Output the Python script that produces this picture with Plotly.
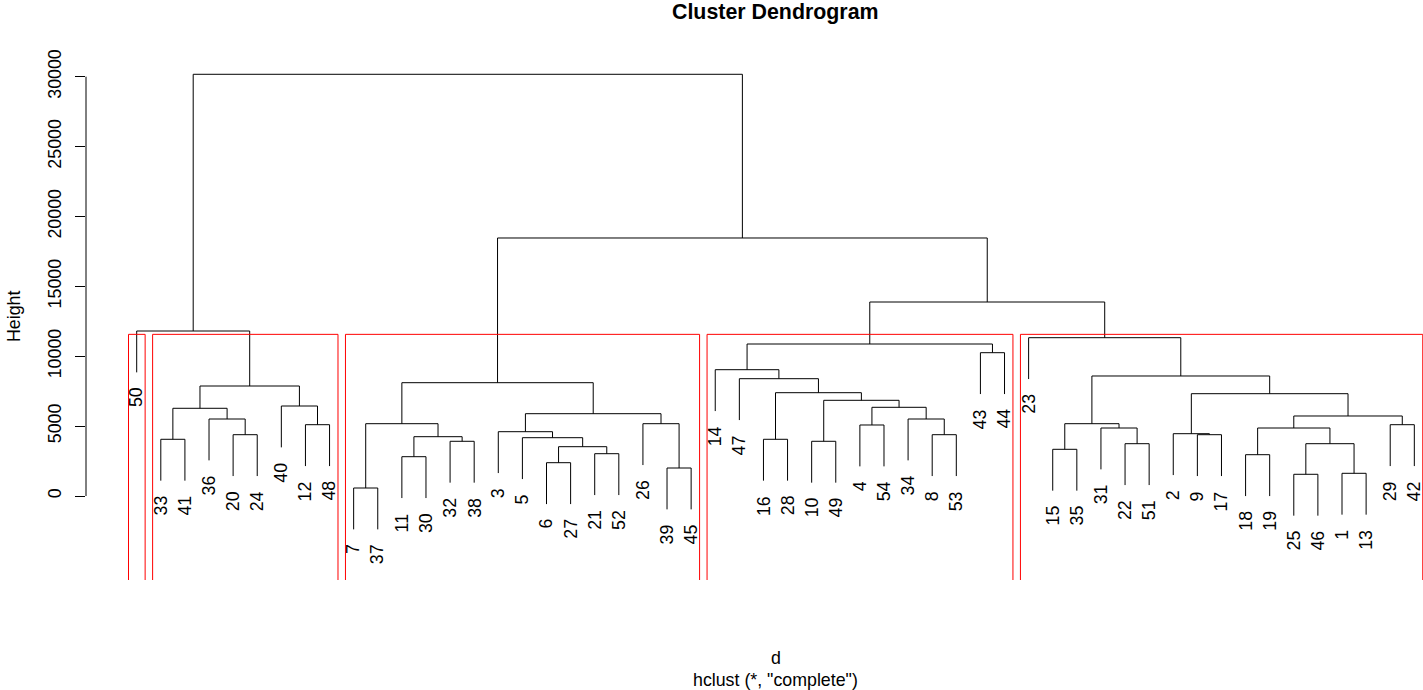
import plotly.graph_objects as go

# R-style hclust merge table: negative = leaf label, positive = earlier merge row (1-based)
merge_a = [-33, -20, -36, 1, -12, -40, 4, -50,
           -7, -11, -32, 10, 9, -6, -21, 14, -5, -3, -39, -26, 18, 13,
           -8, -34, -4, 25, -10, 27, -16, 29, -47, -14, -43, 32,
           -15, -22, -31, 35, -9, -2, -18, -25, -1, 42, 41, -29, 45, 40, 38, -23,
           34, 22, 8]
merge_b = [-41, -24, 2, 3, -48, 5, 6, 7,
           -37, -30, -38, 11, 12, -27, -52, 15, 16, 17, -45, 19, 20, 21,
           -53, 23, -54, 24, -49, 26, -28, 28, 30, 31, -44, 33,
           -35, -51, 36, 37, -17, 39, -19, -46, -13, 43, 44, -42, 46, 47, 48, 49,
           50, 51, 52]
merge_h = [4057, 4386, 5509, 6275, 5101, 6439, 7870, 11805,
           572, 2812, 3914, 4243, 5173, 2382, 3026, 3527, 4171, 4600, 2003, 5173, 5888, 8106,
           4386, 5509, 5080, 6346, 3914, 6847, 4057, 7391, 8392, 9036, 10253, 10875,
           3341, 3742, 4865, 5173, 4386, 4457, 2955, 1553, 1624, 3742, 4865, 5101, 5724, 7319, 8586, 11326,
           13880, 18459, 30171]

k_clusters = 5
y_ticks = [0, 5000, 10000, 15000, 20000, 25000, 30000]
hang = 0.1

FONT = "Liberation Sans, Arial, Helvetica, sans-serif"
FS = 17.8

n_merge = len(merge_h)
n_leaf = n_merge + 1

# leaf order by traversal
def order(node):
    if node < 0:
        return [-node]
    i = node - 1
    return order(merge_a[i]) + order(merge_b[i])

leaf_order = order(n_merge)
leaf_x = {lab: i + 1 for i, lab in enumerate(leaf_order)}

node_x = {}
def xpos(node):
    if node < 0:
        return leaf_x[-node]
    if node in node_x:
        return node_x[node]
    i = node - 1
    v = (xpos(merge_a[i]) + xpos(merge_b[i])) / 2.0
    node_x[node] = v
    return v

hang_amt = hang * (max(merge_h) - min(merge_h))

# y range to match pixel layout
y_bottom = -6010
y_top = 31623

lx, ly = [], []
leaf_bottom = {}
for i in range(n_merge):
    h = merge_h[i]
    a, b = merge_a[i], merge_b[i]
    xa, xb = xpos(a), xpos(b)
    ya = merge_h[a - 1] if a > 0 else h - hang_amt
    yb = merge_h[b - 1] if b > 0 else h - hang_amt
    if a < 0:
        leaf_bottom[-a] = ya
    if b < 0:
        leaf_bottom[-b] = yb
    lx += [xa, xa, xb, xb, None]
    ly += [ya, h, h, yb, None]

fig = go.Figure()
fig.add_trace(go.Scatter(x=lx, y=ly, mode="lines", line=dict(color="black", width=1),
                         hoverinfo="skip", showlegend=False))

# rect.hclust
sorted_h = sorted(merge_h, reverse=True)
cut_h = (sorted_h[k_clusters - 2] + sorted_h[k_clusters - 1]) / 2.0

clusters = []
def collect(node):
    if node < 0:
        clusters.append([-node])
        return
    i = node - 1
    if merge_h[i] < cut_h:
        clusters.append(order(node))
    else:
        collect(merge_a[i])
        collect(merge_b[i])
collect(n_merge)

shapes = [dict(type="line", xref="paper", yref="y", x0=0, x1=0, y0=y_ticks[0], y1=y_ticks[-1],
               line=dict(color="black", width=1))]
for cl in clusters:
    xs = [leaf_x[l] for l in cl]
    x0 = min(xs) - 0.34
    x1 = max(xs) + 0.35
    shapes.append(dict(type="path", xref="x", yref="y", layer="above",
                       path=f"M{x0},{y_bottom} L{x0},{cut_h} L{x1},{cut_h} L{x1},{y_bottom}",
                       line=dict(color="#FF0000", width=1)))

annotations = []
for lab in leaf_order:
    annotations.append(dict(x=leaf_x[lab], y=leaf_bottom[lab], xref="x", yref="y",
                            text=str(lab), showarrow=False, textangle=-90,
                            xanchor="center", yanchor="top", yshift=-13,
                            font=dict(family=FONT, size=FS, color="black")))

x_center = 27.5
annotations.append(dict(x=x_center, y=1, xref="x", yref="paper", text="<b>Cluster Dendrogram</b>",
                        showarrow=False, xanchor="center", yanchor="middle", yshift=42,
                        font=dict(family=FONT, size=FS * 1.2, color="black")))
annotations.append(dict(x=x_center, y=0, xref="x", yref="paper", text="d",
                        showarrow=False, xanchor="center", yanchor="middle", yshift=-78,
                        font=dict(family=FONT, size=FS, color="black")))
annotations.append(dict(x=x_center, y=0, xref="x", yref="paper", text='hclust (*, "complete")',
                        showarrow=False, xanchor="center", yanchor="middle", yshift=-100,
                        font=dict(family=FONT, size=FS, color="black")))
annotations.append(dict(x=0, y=0.5, xref="paper", yref="paper", text="Height",
                        showarrow=False, xanchor="center", yanchor="middle", xshift=-72,
                        textangle=-90, font=dict(family=FONT, size=FS, color="black")))

fig.update_layout(
    width=1423, height=690,
    margin=dict(l=86, r=0, t=54, b=110, pad=0),
    paper_bgcolor="white", plot_bgcolor="white",
    showlegend=False,
    annotations=annotations,
    shapes=shapes,
    xaxis=dict(range=[1 + (86 - 136.7) / 24.106, 1 + (1423 - 136.7) / 24.106],
               visible=False, fixedrange=True),
    yaxis=dict(range=[y_bottom, y_top], showgrid=False, zeroline=False, showline=False,
               ticks="outside", ticklen=10, tickwidth=1, tickcolor="black",
               tickvals=y_ticks, ticktext=[str(v) for v in y_ticks], tickangle=-90,
               ticklabelstandoff=7,
               tickfont=dict(family=FONT, size=FS, color="black"), fixedrange=True),
)

fig.write_html("out.html")
